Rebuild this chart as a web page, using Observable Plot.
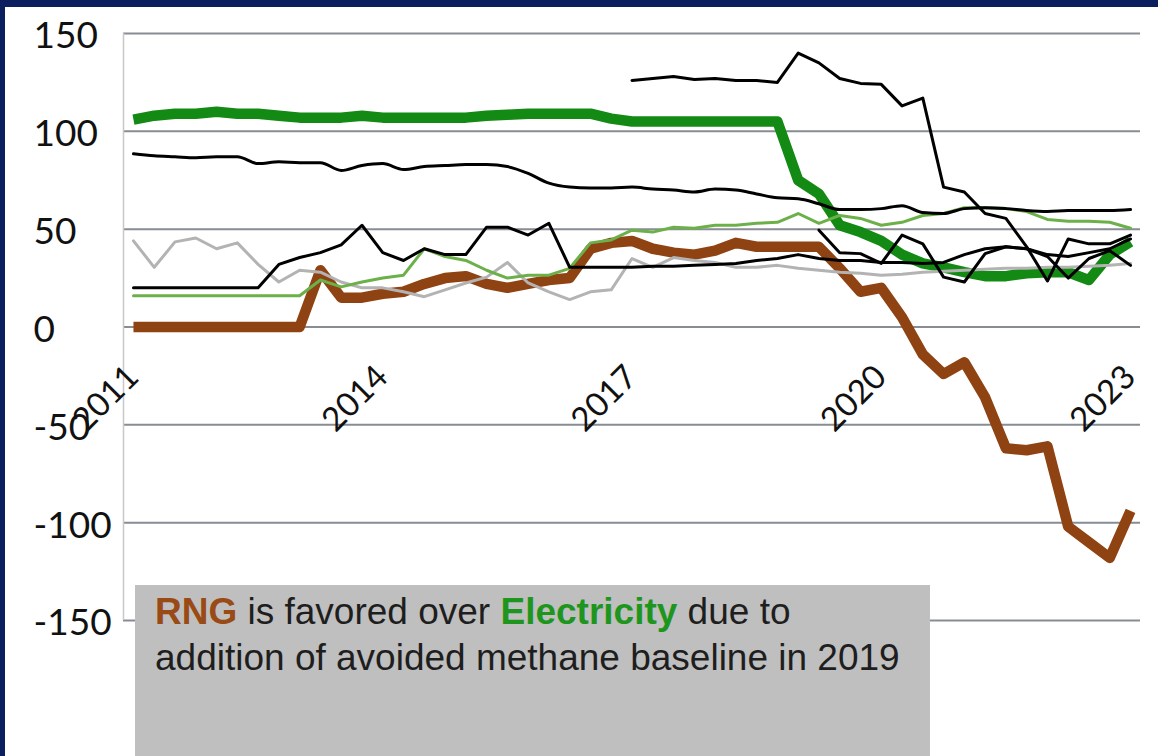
<!DOCTYPE html>
<html>
<head>
<meta charset="utf-8">
<script src="https://cdn.jsdelivr.net/npm/d3@7"></script>
<script src="https://cdn.jsdelivr.net/npm/@observablehq/plot@0.6"></script>
<style>
  html, body { margin: 0; padding: 0; width: 1158px; height: 756px; overflow: hidden; background: #0b1f5e; }
  #panel { position: absolute; left: 5px; top: 7px; width: 1153px; height: 749px; background: #ffffff; }
  #chart { position: absolute; left: 0; top: 0; }
  #note { position: absolute; left: 130px; top: 578px; width: 795px; height: 171px; background: #bfbfbf;
          font-family: "Liberation Sans", Arial, sans-serif; font-size: 37px; line-height: 46px;
          color: #1e1e1e; box-sizing: border-box; padding: 4px 0 0 20px; white-space: nowrap; }
  #note .rng { color: #9a4a14; font-weight: bold; }
  #note .elec { color: #1e961e; font-weight: bold; }
</style>
</head>
<body>
<div id="panel">
  <div id="chart"></div>
  <div id="note"><span class="rng">RNG</span> is favored over <span class="elec">Electricity</span> due to<br>addition of avoided methane baseline in 2019</div>
</div>
<script>
// Quarterly values, 2011 Q1 .. 2023 Q1 (49 points)
const startYear = 2011;
const yTicks = [150, 100, 50, 0, -50, -100, -150];
const xTickYears = [2011, 2014, 2017, 2020, 2023];
const xTickLabels = ["2011", "2014", "2017", "2020", "2023"];

const rng = [0,0,0,0,0,0,0,0,0,29,15,15,17,18,22,25,26,22,20,22,24,25,40,43,44,40,38,37,39,43,41,41,41,41,30,18,20,5,-14,-24,-18,-36,-62,-63,-61,-102,-110,-118,-94];
const electricity = [106,108,109,109,110,109,109,108,107,107,107,108,107,107,107,107,107,108,108.5,109,109,109,109,106.5,105,105,105,105,105,105,105,105,75,68,52,48.5,44,37,32.5,30.5,28,26,26,27.5,28,28,24,37,43.5];
const blackA = [null,null,null,null,null,null,null,null,null,null,null,null,null,null,null,null,null,null,null,null,null,null,null,null,126,127,128,126.5,127,126,126,125,140,135,127,124.5,124,113,117,71.5,69,58,55.5,41,23.5,45,42.5,42.5,47];
const blackB = [88.5,87.5,87,86.5,87,87,83.5,84.5,84,84,80,82.5,83.5,80.5,82,82.5,83,83,82,78.5,73.5,71.5,71,71,71.5,70.5,70,69,70.5,70,68,66,65.5,63,60,60,60.5,62,58.5,58,60.5,61,60.5,59.5,59,59.5,59.5,59.5,60];
const blackC = [20,20,20,20,20,20,20,32,35.5,38,42,52,38,34,40,37,37,51,51,47,53,30.5,30.5,30.5,30.5,31,31,31.5,32,32.5,34,35,37,35,34,34,33,33,32.5,33,37,40,41,40,37,36,38,40,45];
const blackD = [null,null,null,null,null,null,null,null,null,null,null,null,null,null,null,null,null,null,null,null,null,null,null,null,null,null,null,null,null,null,null,null,null,49.5,38,37.5,32.5,47,42.5,25.5,23,37.5,41,40,36,25,35,39,31.5];
const lightGreen = [16,16,16,16,16,16,16,16,16,24,20.5,23,25,26.5,40,36,34,29,25,26.5,26.5,30,43,44.5,49.5,48.5,51,50.5,52,52,53,53.5,58,53,57,55.5,52,53.5,57,58,61,61,60.5,59,55,54,54,53.5,50.5];
const gray = [44,30.5,43.5,45.5,40,43,32,23,29,28,23,20,20,18,15.5,19,22.5,25.5,33,22.5,18,14,18,19,35,30.5,35.5,34,33,30.5,30.5,31.5,30,29,28,27.5,26.5,27,28,28.5,29,29.5,30,30,30.5,30.5,31,31.5,32.5];

const series = [
  {name: "RNG", values: rng, color: "#8f4212", width: 10.5, cap: "butt", curve: "linear"},
  {name: "Electricity", values: electricity, color: "#138a13", width: 10.5, cap: "butt", curve: "linear"},
  {name: "Gray", values: gray, color: "#b3b3b3", width: 3, cap: "round", curve: "linear"},
  {name: "Light green", values: lightGreen, color: "#6cb04a", width: 3, cap: "round", curve: "linear"},
  {name: "Black B", values: blackB, color: "#000000", width: 3, cap: "round", curve: "monotone-x"},
  {name: "Black C", values: blackC, color: "#000000", width: 3, cap: "round", curve: "linear"},
  {name: "Black D", values: blackD, color: "#000000", width: 3, cap: "round", curve: "linear"},
  {name: "Black A", values: blackA, color: "#000000", width: 3, cap: "round", curve: "linear"}
];

function rowsOf(s) {
  const out = [];
  s.values.forEach((v, i) => { if (v !== null) out.push({x: startYear + i / 4, y: v}); });
  return out;
}

const xPad = 0.12;
const lineMarks = series.map(s => Plot.line(rowsOf(s), {
  x: "x", y: "y", stroke: s.color, strokeWidth: s.width,
  strokeLinejoin: "round", strokeLinecap: s.cap, curve: s.curve
}));

const chart = Plot.plot({
  width: 1153, height: 749,
  marginLeft: 118, marginRight: 18, marginTop: 26, marginBottom: 136,
  x: {domain: [startYear - xPad, 2023 + xPad], axis: null},
  y: {domain: [-150, 150], axis: null},
  style: {background: "transparent", fontFamily: "Lato, 'Open Sans', sans-serif", color: "#111"},
  marks: [
    Plot.ruleY(yTicks, {stroke: "#878c95", strokeWidth: 2}),
    Plot.ruleX([startYear - xPad], {stroke: "#c8c8c8", strokeWidth: 1.5}),
    Plot.text(yTicks, {y: d => d, text: d => String(d), frameAnchor: "left", textAnchor: "start",
      dx: -90, dy: 3, fontSize: 37, fill: "#111"}),
    Plot.text(xTickYears, {x: d => d, y: () => 0, text: (d, i) => xTickLabels[i], rotate: -45,
      textAnchor: "end", lineAnchor: "bottom", dx: 7, dy: 52, fontSize: 33, fill: "#111"}),
    ...lineMarks
  ]
});
document.getElementById("chart").appendChild(chart);
</script>
</body>
</html>
